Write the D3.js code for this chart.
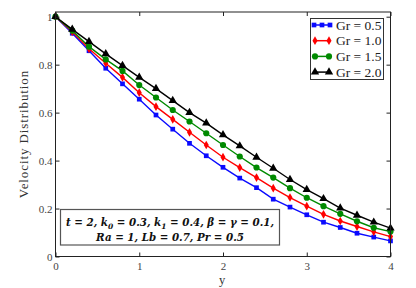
<!DOCTYPE html>
<html><head><meta charset="utf-8">
<script src="https://cdn.jsdelivr.net/npm/d3@7"></script>
<style>body{margin:0;background:#fff}svg{display:block}
.serif{font-family:"Liberation Serif","Times New Roman",Times,serif}
.math{font-family:"DejaVu Serif",serif;font-weight:bold;font-style:italic}
</style>
</head><body><svg id="c" width="416" height="288"></svg>
<script>
const xs = [0,0.2,0.4,0.6,0.8,1.0,1.2,1.4,1.6,1.8,2.0,2.2,2.4,2.6,2.8,3.0,3.2,3.4,3.6,3.8,4.0];
const gr05 = [1.0,0.931,0.858,0.785,0.72,0.656,0.59,0.531,0.472,0.42,0.372,0.327,0.287,0.239,0.206,0.174,0.143,0.121,0.097,0.081,0.065];
const gr10 = [1.0,0.937,0.866,0.806,0.747,0.683,0.625,0.572,0.518,0.465,0.414,0.371,0.329,0.285,0.246,0.21,0.176,0.148,0.125,0.103,0.083];
const gr15 = [1.0,0.942,0.875,0.822,0.774,0.715,0.663,0.611,0.563,0.514,0.465,0.417,0.371,0.329,0.285,0.245,0.21,0.178,0.147,0.12,0.104];
const gr20 = [1.0,0.947,0.896,0.845,0.796,0.747,0.70,0.65,0.60,0.556,0.507,0.461,0.414,0.368,0.321,0.279,0.241,0.202,0.172,0.143,0.118];
const seriesNames = ["Gr = 0.5","Gr = 1.0","Gr = 1.5","Gr = 2.0"];
const xTicks = [0,1,2,3,4];
const yTicks = [0,0.2,0.4,0.6,0.8,1];

const svg = d3.select("#c");
const L=55.5, R=390.5, T=12, B=256.5;
const x = d3.scaleLinear().domain([0,4]).range([L,R]);
const y = d3.scaleLinear().domain([0,1]).range([B,16.7]);

const series = [
  {name:seriesNames[0], v:gr05, color:"#0a0aff", sym:d3.symbolSquare, size:22},
  {name:seriesNames[1], v:gr10, color:"#ff0000", sym:d3.symbolDiamond, size:22},
  {name:seriesNames[2], v:gr15, color:"#008a00", sym:d3.symbolCircle, size:30},
  {name:seriesNames[3], v:gr20, color:"#000000", sym:d3.symbolTriangle, size:30}
];

const line = d3.line().x((d,i)=>x(xs[i])).y(d=>y(d));
series.forEach(s=>{
  svg.append("path").attr("d",line(s.v)).attr("fill","none").attr("stroke",s.color).attr("stroke-width",1.4);
  svg.selectAll(null).data(s.v).enter().append("path")
    .attr("d",d3.symbol().type(s.sym).size(s.size))
    .attr("transform",(d,i)=>`translate(${x(xs[i])},${y(d)})`)
    .attr("fill",s.color);
});

// frame
svg.append("rect").attr("x",L).attr("y",T).attr("width",R-L).attr("height",B-T)
  .attr("fill","none").attr("stroke","#222").attr("stroke-width",1);

// axes
const ax = svg.append("g").attr("transform",`translate(0,${B})`)
  .call(d3.axisBottom(x).tickValues(xTicks).tickSize(-4).tickPadding(6).tickFormat(d3.format("d")));
ax.attr("font-family",null);
ax.select(".domain").remove();
ax.selectAll("text").attr("class","serif").attr("font-size",11).attr("fill","#444");
ax.selectAll("line").attr("stroke","#222");
const axt = svg.append("g").attr("transform",`translate(0,${T})`)
  .call(d3.axisTop(x).tickValues(xTicks).tickSize(-4).tickFormat(""));
axt.select(".domain").remove(); axt.selectAll("line").attr("stroke","#222");
const ay = svg.append("g").attr("transform",`translate(${L},0)`)
  .call(d3.axisLeft(y).tickValues(yTicks).tickSize(-4).tickPadding(3).tickFormat(d=>d===0?"0":d===1?"1":d3.format(".1f")(d)));
ay.attr("font-family",null);
ay.select(".domain").remove();
ay.selectAll("text").attr("class","serif").attr("font-size",11).attr("fill","#444");
ay.selectAll("line").attr("stroke","#222");
const ayr = svg.append("g").attr("transform",`translate(${R},0)`)
  .call(d3.axisRight(y).tickValues(yTicks).tickSize(-4).tickFormat(""));
ayr.select(".domain").remove(); ayr.selectAll("line").attr("stroke","#222");

// axis titles
svg.append("text").attr("class","serif").attr("x",222).attr("y",284).attr("text-anchor","middle")
  .attr("font-size",12.5).attr("fill","#333").text("y");
svg.append("text").attr("class","serif").attr("transform","translate(28,134) rotate(-90)").attr("text-anchor","middle")
  .attr("font-size",13).attr("fill","#333").attr("letter-spacing",0.9)
  .text("Velocity  Distribution");

// legend
const lg = svg.append("g");
lg.append("rect").attr("x",310.5).attr("y",18.5).attr("width",73).attr("height",61)
  .attr("fill","#fff").attr("stroke","#333").attr("stroke-width",1);
series.forEach((s,i)=>{
  const yy = 25 + i*15.7;
  lg.append("line").attr("x1",313).attr("x2",331).attr("y1",yy).attr("y2",yy)
    .attr("stroke",s.color).attr("stroke-width",1.5);
  const pts = i===0 ? [314,322,330] : [315,329];
  pts.forEach(px=>lg.append("path").attr("d",d3.symbol().type(s.sym).size(s.size))
    .attr("transform",`translate(${px},${yy})`).attr("fill",s.color));
  lg.append("text").attr("class","serif").attr("x",336).attr("y",yy+4.5).attr("font-size",13.5)
    .attr("fill","#222").text(s.name);
});

// annotation box
svg.append("rect").attr("x",60.5).attr("y",209.5).attr("width",219).attr("height",35.5)
  .attr("fill","#fff").attr("stroke","#555").attr("stroke-width",1.2);
const ann = svg.append("text").attr("class","math")
  .attr("font-size",10.3).attr("fill","#111").attr("text-anchor","middle");
const t1 = ann.append("tspan").attr("x",170).attr("y",226);
t1.append("tspan").text("t = 2, k");
t1.append("tspan").attr("font-size",7.5).attr("dy",2.5).text("0");
t1.append("tspan").attr("dy",-2.5).text(" = 0.3, k");
t1.append("tspan").attr("font-size",7.5).attr("dy",2.5).text("1");
t1.append("tspan").attr("dy",-2.5).text(" = 0.4, β = γ = 0.1,");
ann.append("tspan").attr("x",170).attr("y",241).text("Ra = 1, Lb = 0.7, Pr = 0.5");
</script></body></html>
